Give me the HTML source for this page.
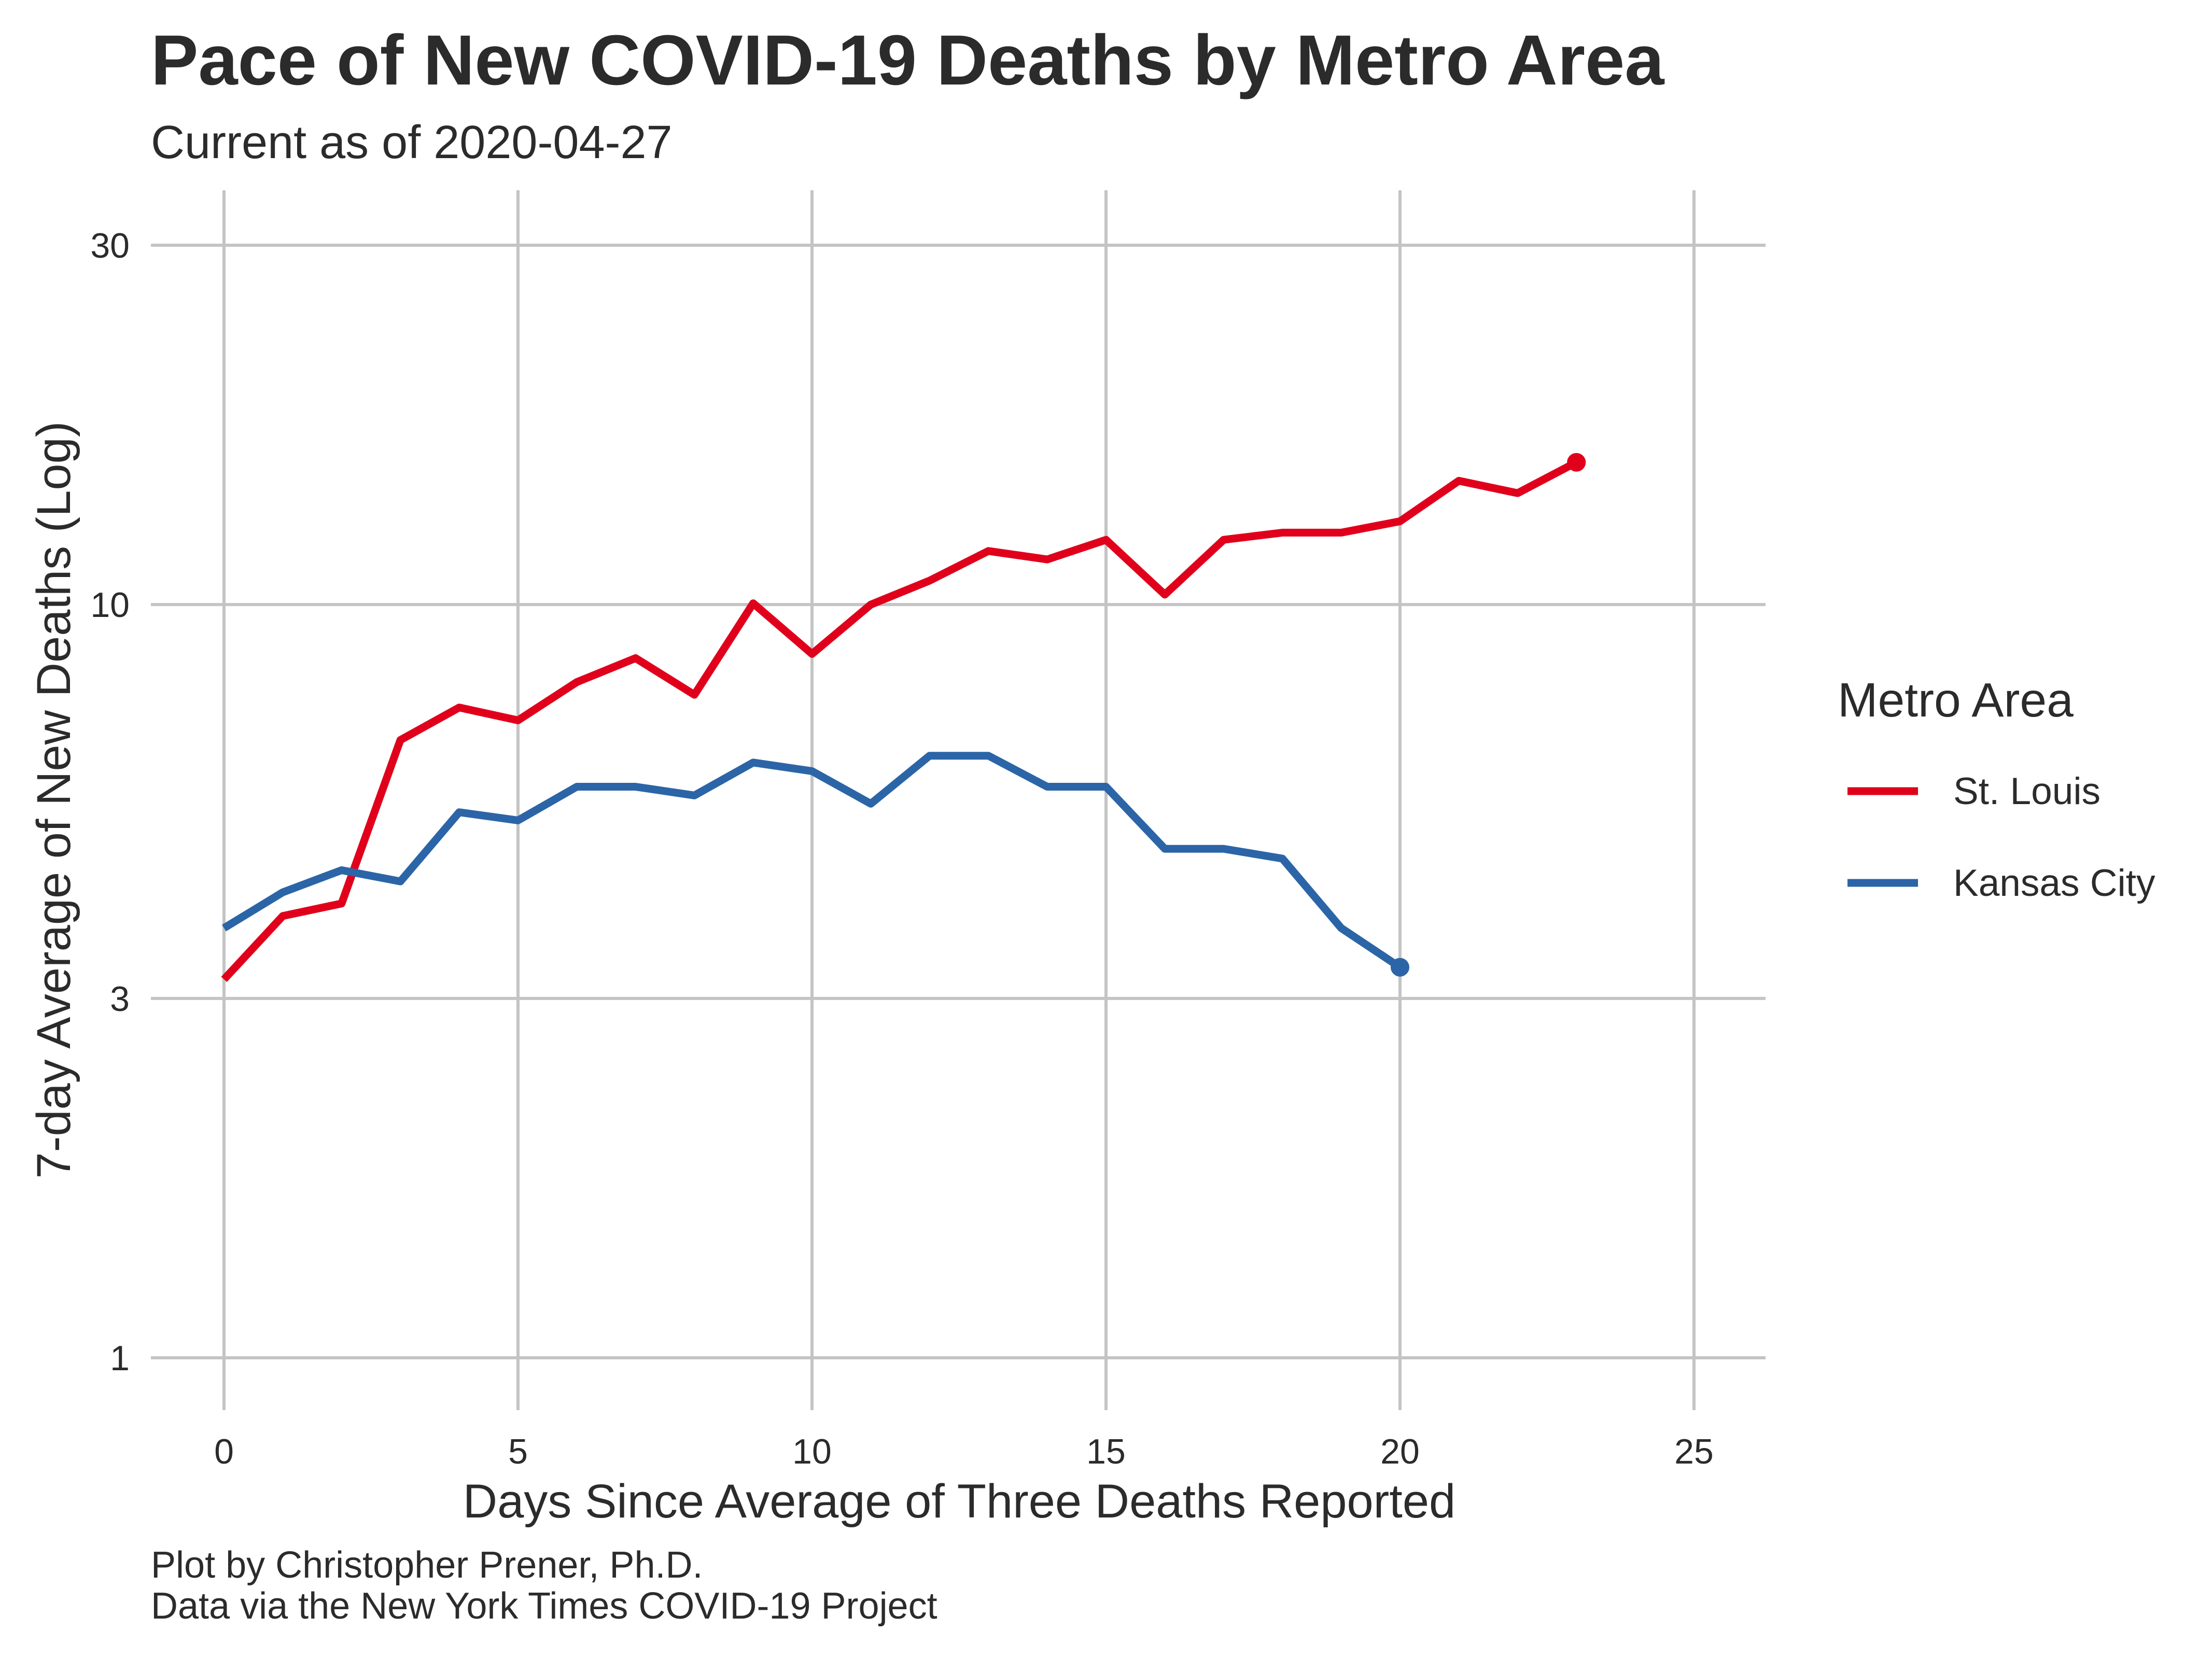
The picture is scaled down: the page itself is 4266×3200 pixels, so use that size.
<!DOCTYPE html>
<html><head><meta charset="utf-8"><style>
body{margin:0;background:#fff}
svg{display:block}
text{font-family:"Liberation Sans",sans-serif;fill:#2b2b2b}
</style></head><body>
<svg id="chart" width="4266" height="3200" viewBox="0 0 4266 3200">
<text x="291" y="163" font-size="137" font-weight="bold">Pace of New COVID-19 Deaths by Metro Area</text>
<text x="291" y="305" font-size="90">Current as of 2020-04-27</text>
<g id="grid"></g>
<g id="series"></g>
<g id="ticks"></g>
<text x="1850" y="2927" font-size="92" text-anchor="middle">Days Since Average of Three Deaths Reported</text>
<text transform="translate(135,1543) rotate(-90)" font-size="92" text-anchor="middle">7-day Average of New Deaths (Log)</text>
<g>
<text x="3544" y="1382" font-size="93">Metro Area</text>
<line x1="3563" x2="3699" y1="1526" y2="1526" stroke="#e0001b" stroke-width="15"/>
<text x="3767" y="1551" font-size="73">St. Louis</text>
<line x1="3563" x2="3699" y1="1703" y2="1703" stroke="#2b65a7" stroke-width="15"/>
<text x="3767" y="1728" font-size="73">Kansas City</text>
</g>
<text x="291" y="3043" font-size="72">Plot by Christopher Prener, Ph.D.</text>
<text x="291" y="3122" font-size="72">Data via the New York Times COVID-19 Project</text>
</svg>
<script>
const xTicks=[0,5,10,15,20,25];
const yTicks=[1,3,10,30];
const yTickLabels=["1","3","10","30"];
const stlDays=[0,1,2,3,4,5,6,7,8,9,10,11,12,13,14,15,16,17,18,19,20,21,22,23];
const stlValues=[3.18,3.86,4.01,6.61,7.30,7.02,7.89,8.49,7.59,10.04,8.60,10.0,10.76,11.78,11.48,12.19,10.31,12.19,12.46,12.46,12.90,14.6,14.06,15.45];
const kcDays=[0,1,2,3,4,5,6,7,8,9,10,11,12,13,14,15,16,17,18,19,20];
const kcValues=[3.72,4.15,4.44,4.29,5.30,5.17,5.73,5.73,5.58,6.17,6.01,5.44,6.30,6.30,5.73,5.73,4.74,4.74,4.60,3.72,3.30];
const NS='http://www.w3.org/2000/svg';
const x=d=>432+d*(3267-432)/25;
const y=v=>2619-Math.log10(v)*(2619-473)/Math.log10(30);
const L=291,R=3405,T=367,B=2720;
const grid=document.getElementById('grid'),ticks=document.getElementById('ticks'),series=document.getElementById('series');
function mk(tag,attrs,parent){const e=document.createElementNS(NS,tag);for(const k in attrs)e.setAttribute(k,attrs[k]);parent.appendChild(e);return e;}
xTicks.forEach(t=>{
 const l=mk('line',{x1:x(t),x2:x(t),y1:T,y2:B,stroke:'#c4c4c4','stroke-width':6},grid);
 
 
 const tx=mk('text',{x:x(t),y:2823,'font-size':68,'text-anchor':'middle'},ticks);tx.textContent=t;
 
 
});
yTicks.forEach((t,i)=>{
 const l=mk('line',{x1:L,x2:R,y1:y(t),y2:y(t),stroke:'#c4c4c4','stroke-width':6},grid);
 
 
 const tx=mk('text',{x:250,y:y(t)+24,'font-size':68,'text-anchor':'end'},ticks);tx.textContent=yTickLabels[i];
 
 
});
function draw(days,vals,color,name){
 const p=mk('polyline',{points:days.map((d,i)=>x(d)+','+y(vals[i])).join(' '),fill:'none',stroke:color,'stroke-width':15,'stroke-linejoin':'round'},series);
 
 
 const n=days.length-1;
 const c=mk('circle',{cx:x(days[n]),cy:y(vals[n]),r:18,fill:color},series);
 
 
}
draw(stlDays,stlValues,'#e0001b','st-louis');
draw(kcDays,kcValues,'#2b65a7','kansas-city');
</script>
</body></html>
